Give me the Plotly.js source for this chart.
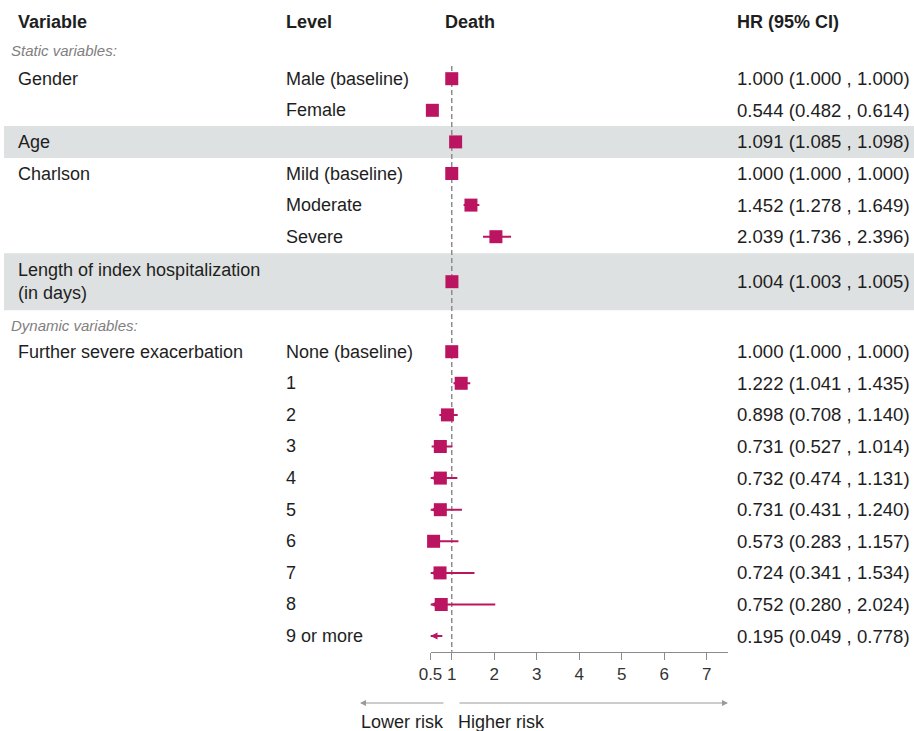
<!DOCTYPE html>
<html>
<head>
<meta charset="utf-8">
<script src="https://cdn.plot.ly/plotly-3.0.1.min.js"></script>
<style>
  html, body { margin: 0; padding: 0; background: #ffffff; }
  #chart { width: 914px; height: 731px; }
</style>
</head>
<body>
<div id="chart"></div>
<script>
// ---- Data -------------------------------------------------------------
const variables = [
  'Gender', '', 'Age', 'Charlson', '', '',
  'Length of index hospitalization<br>(in days)',
  'Further severe exacerbation', '', '', '', '', '', '', '', '', ''
];
const levels = [
  'Male (baseline)', 'Female', '', 'Mild (baseline)', 'Moderate', 'Severe', '',
  'None (baseline)', '1', '2', '3', '4', '5', '6', '7', '8', '9 or more'
];
const hr = [1.000, 0.544, 1.091, 1.000, 1.452, 2.039, 1.004,
            1.000, 1.222, 0.898, 0.731, 0.732, 0.731, 0.573, 0.724, 0.752, 0.195];
const ciLow = [1.000, 0.482, 1.085, 1.000, 1.278, 1.736, 1.003,
               1.000, 1.041, 0.708, 0.527, 0.474, 0.431, 0.283, 0.341, 0.280, 0.049];
const ciHigh = [1.000, 0.614, 1.098, 1.000, 1.649, 2.396, 1.005,
                1.000, 1.435, 1.140, 1.014, 1.131, 1.240, 1.157, 1.534, 2.024, 0.778];
const tickValues = [0.5, 1, 2, 3, 4, 5, 6, 7];
const tickLabels = ['0.5', '1', '2', '3', '4', '5', '6', '7'];
const shadedRows = [2, 6];

// ---- Layout helpers -----------------------------------------------------
const W = 914, H = 731;
const XMIN = 0.5, XMAX = 7.5;
const MARK = '#bb1460';
const TEXT = '#1e1e1e';
const FONT = 'Liberation Sans, Arial, Helvetica, sans-serif';
const px = v => v / W;             // pixel x -> paper fraction

// vertical placement of rows (pixel units on the hidden y axis)
const PITCH = 31.6;
const rowStep = [0, 1, 1, 1, 1, 1, 1.424, 2.215, 1, 1, 1, 1, 1, 1, 1, 1, 1];
const rowY = [];
rowStep.reduce((y, s, i) => { const v = y + s * PITCH; rowY.push(v); return v; }, 78.7);
const rowHalf = i => (variables[i].indexOf('<br>') >= 0 ? 28.5 : 16);

const AXIS_Y = 651.7;

// ---- Traces --------------------------------------------------------------
const ciX = [], ciY = [];
hr.forEach((v, i) => {
  ciX.push(Math.max(ciLow[i], XMIN), Math.min(ciHigh[i], XMAX), null);
  ciY.push(rowY[i], rowY[i], null);
});

const ciTrace = {
  type: 'scatter', mode: 'lines', x: ciX, y: ciY,
  line: { color: MARK, width: 2 }, hoverinfo: 'skip', cliponaxis: false
};

// arrowheads where an interval runs past the left end of the axis
const cutRows = hr.map((v, i) => i).filter(i => ciLow[i] < XMIN);
const arrowTrace = {
  type: 'scatter', mode: 'markers',
  x: cutRows.map(() => XMIN), y: cutRows.map(i => rowY[i]),
  marker: { symbol: 'arrow-left', size: 7, color: MARK, line: { width: 0 } },
  cliponaxis: false, hoverinfo: 'skip'
};

const pointTrace = {
  type: 'scatter', mode: 'markers',
  x: hr.map(v => (v >= XMIN ? v : null)), y: rowY,
  marker: { symbol: 'square', size: 13, color: MARK, line: { width: 0 } },
  cliponaxis: false, hoverinfo: 'skip'
};

// ---- Annotations ---------------------------------------------------------
const ann = [];
const txt = (x, y, text, opts = {}) => ann.push(Object.assign({
  xref: 'paper', yref: 'y', x: px(x), y: y, text: text, showarrow: false,
  xanchor: 'left', yanchor: 'middle', align: 'left',
  font: { family: FONT, size: 18, color: TEXT }
}, opts));

// column headers
txt(16, 21.5, '<b>Variable</b>');
txt(284, 21.5, '<b>Level</b>');
txt(443, 21.5, '<b>Death</b>');
txt(735, 21.5, '<b>HR (95% CI)</b>');

// section labels
const sectionFont = { family: FONT, size: 15, color: '#808080' };
txt(9, 50, '<i>Static variables:</i>', { font: sectionFont });
txt(9, 325, '<i>Dynamic variables:</i>', { font: sectionFont });

// row texts
const valueFont = { family: FONT, size: 18.6, color: TEXT };
hr.forEach((v, i) => {
  if (variables[i]) txt(16, rowY[i], variables[i]);
  if (levels[i]) txt(284, rowY[i], levels[i]);
  txt(735, rowY[i], v.toFixed(3) + ' (' + ciLow[i].toFixed(3) + ' , ' + ciHigh[i].toFixed(3) + ')',
      { font: valueFont });
});

// risk direction arrows under the axis
const arrowGrey = '#9a9a9a';
ann.push({
  xref: 'paper', yref: 'y', x: px(360), y: 703, ax: 85, ay: 0, text: '',
  showarrow: true, arrowhead: 2, arrowsize: 1.2, arrowwidth: 1, arrowcolor: arrowGrey
});
ann.push({
  xref: 'paper', yref: 'y', x: px(728), y: 703, ax: -270, ay: 0, text: '',
  showarrow: true, arrowhead: 2, arrowsize: 1.2, arrowwidth: 1, arrowcolor: arrowGrey
});
txt(402, 722, 'Lower risk', { xanchor: 'center', align: 'center' });
txt(456, 722, 'Higher risk');

// ---- Shapes --------------------------------------------------------------
const shapes = shadedRows.map(i => ({
  type: 'rect', layer: 'below', xref: 'paper', yref: 'y',
  x0: px(4), x1: 1, y0: rowY[i] - rowHalf(i), y1: rowY[i] + rowHalf(i),
  fillcolor: '#dee1e1', line: { width: 0 }
}));
shapes.push({
  type: 'line', layer: 'below', xref: 'x', yref: 'y',
  x0: 1, x1: 1, y0: 66, y1: AXIS_Y,
  line: { color: '#8c8c8c', width: 1.5, dash: '5px,3px' }
});

// ---- Layout --------------------------------------------------------------
const layout = {
  width: W, height: H,
  margin: { l: 0, r: 0, t: 0, b: 0, pad: 0 },
  paper_bgcolor: '#ffffff', plot_bgcolor: 'rgba(0,0,0,0)',
  showlegend: false, hovermode: false,
  font: { family: FONT, color: TEXT },
  xaxis: {
    domain: [px(430.5), px(728)], range: [XMIN, XMAX],
    anchor: 'free', position: 1 - AXIS_Y / H,
    showline: true, linecolor: '#8c8c8c', linewidth: 1,
    ticks: 'outside', ticklen: 7, tickwidth: 1, tickcolor: '#8c8c8c',
    tickmode: 'array', tickvals: tickValues, ticktext: tickLabels,
    tickfont: { family: FONT, size: 17, color: '#333333' },
    showgrid: false, zeroline: false, fixedrange: true
  },
  yaxis: {
    domain: [0, 1], range: [H, 0], visible: false,
    showgrid: false, zeroline: false, fixedrange: true
  },
  shapes: shapes,
  annotations: ann
};

Plotly.newPlot('chart', [ciTrace, arrowTrace, pointTrace], layout, { staticPlot: true, displayModeBar: false });
</script>
</body>
</html>
